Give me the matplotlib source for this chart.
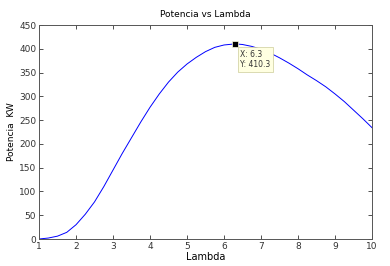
import matplotlib
matplotlib.use("Agg")
import matplotlib.pyplot as plt

lam = [1, 1.25, 1.5, 1.75, 2, 2.25, 2.5, 2.75, 3, 3.25, 3.5, 3.75, 4, 4.25, 4.5, 4.75,
       5, 5.25, 5.5, 5.75, 6, 6.3, 6.5, 6.75, 7, 7.25, 7.5, 7.75, 8, 8.25, 8.5, 8.75,
       9, 9.25, 9.5, 9.75, 10]
pot = [0, 2, 6, 14, 30, 52, 78, 110, 145, 180, 213, 246, 277, 305, 330, 351,
       368, 382, 394, 403, 408, 410.3, 409, 405, 399, 391, 381, 370, 358, 345, 333, 320,
       305, 289, 271, 253, 234]
tip_x, tip_y = 6.3, 410.3
xticks = [1, 2, 3, 4, 5, 6, 7, 8, 9, 10]
yticks = [0, 50, 100, 150, 200, 250, 300, 350, 400, 450]

plt.rcParams['font.family'] = ['DejaVu Sans']
fig = plt.figure(figsize=(3.9, 2.66), dpi=100)
ax = fig.add_axes([0.1, 0.1015, 0.854, 0.8045])
ax.plot(lam, pot, color='#0000ff', lw=0.7)
ax.plot([tip_x], [tip_y], marker='s', ms=4, color='black', mec='#ffffe0', mew=0.5)
ax.annotate(f"X: {tip_x}\nY: {tip_y}", xy=(tip_x, tip_y), xytext=(6.44, 378),
            fontsize=5.5, va='center', ha='left', color='#333333',
            bbox=dict(boxstyle='square,pad=0.35', fc='#ffffe1', ec='#cccc99', lw=0.5))
ax.set_xlim(1, 10)
ax.set_ylim(0, 450)
ax.set_xticks(xticks)
ax.set_yticks(yticks)
ax.tick_params(direction='in', length=3, width=0.6, labelsize=6.5, top=True, right=True,
               colors='#333333', pad=2)
for s in ax.spines.values():
    s.set_color('#555555')
    s.set_linewidth(0.7)
ax.set_title('Potencia vs Lambda', fontsize=6.5, pad=6)
ax.set_xlabel('Lambda', fontsize=7, labelpad=1)
ax.set_ylabel('Potencia  KW', fontsize=6.5)
ax.yaxis.set_label_coords(-0.068, 0.5)
fig.savefig('out.png', dpi=100)
